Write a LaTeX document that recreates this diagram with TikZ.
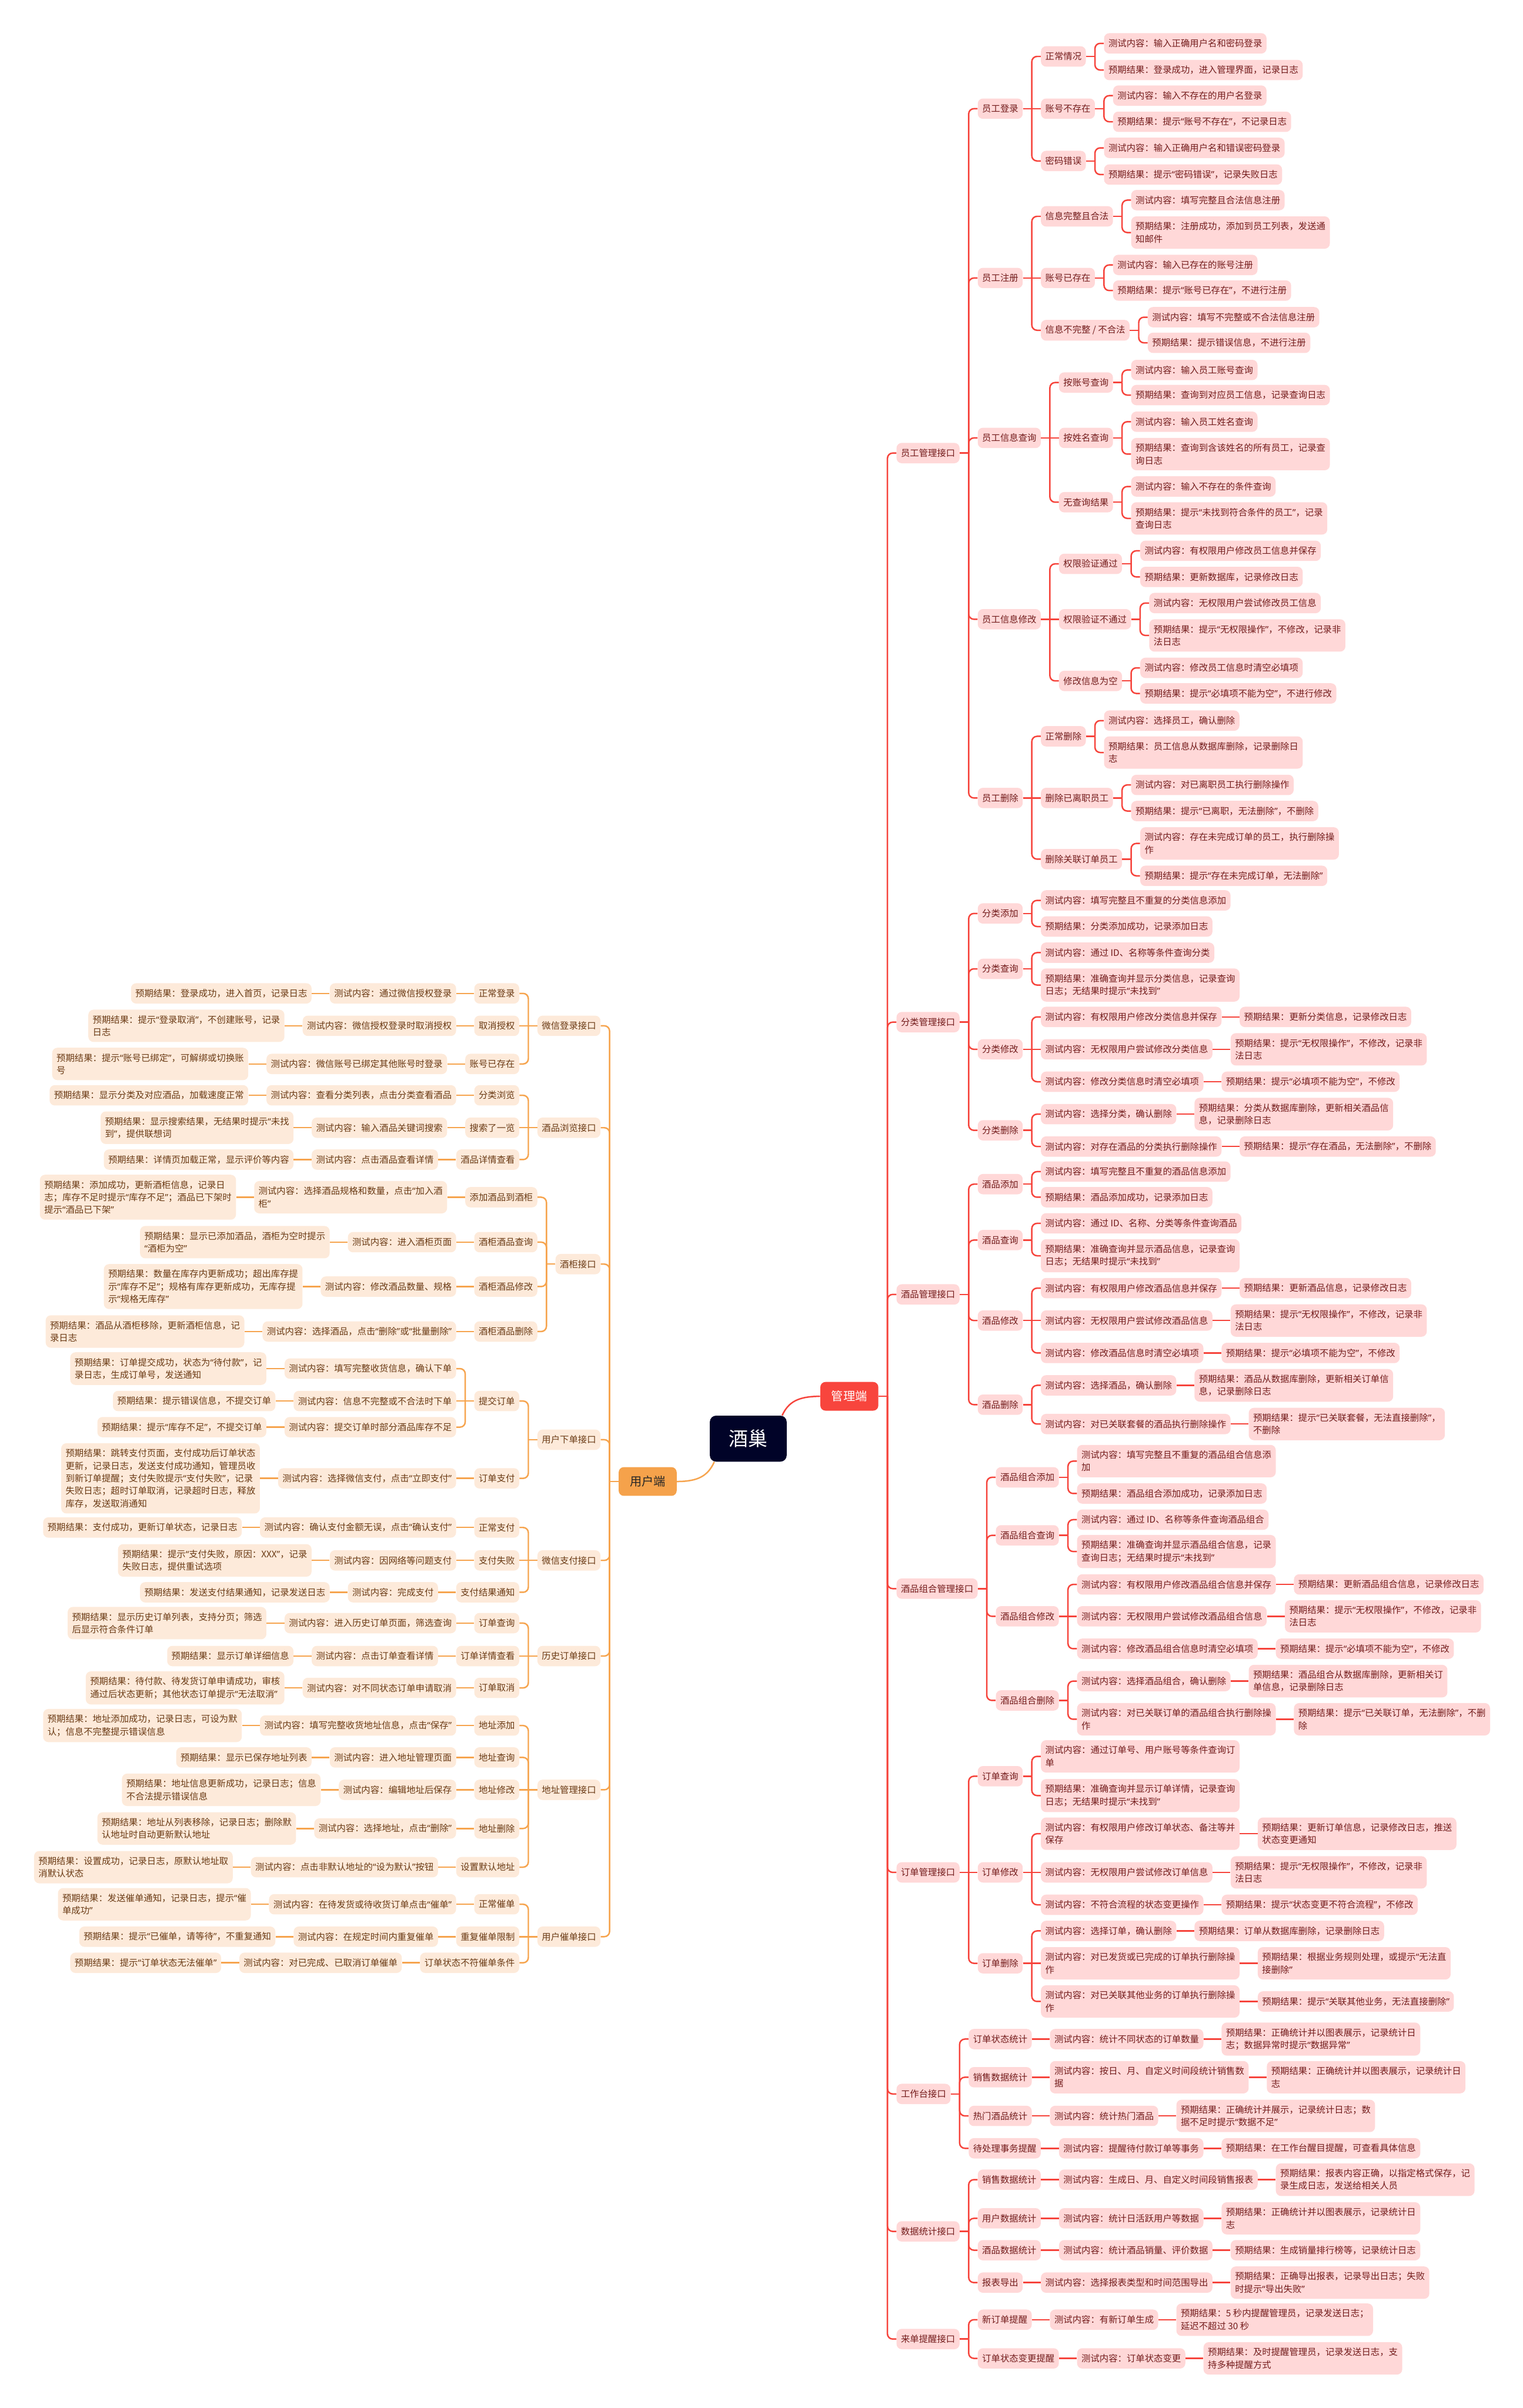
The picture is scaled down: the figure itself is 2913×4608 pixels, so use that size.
\documentclass[tikz,border=0pt]{standalone}
\usepackage{fontspec}
\usetikzlibrary{calc}
\newfontfamily\cjk{Noto Sans CJK SC}
\newfontfamily\qfont{Noto Sans}
\newcommand\qq[1]{{\qfont “}#1{\qfont ”}}
\definecolor{rfill}{HTML}{FFD8D8}
\definecolor{rtext}{HTML}{731C1C}
\definecolor{lfill}{HTML}{FDEADA}
\definecolor{ltext}{HTML}{6A3A14}
\definecolor{rline}{HTML}{F6443C}
\definecolor{lline}{HTML}{F6A44E}
\definecolor{rootc}{HTML}{010328}
\definecolor{mgrc}{HTML}{F8453D}
\definecolor{usrc}{HTML}{F5A24B}
\tikzset{
  base/.style={rounded corners=5pt, inner xsep=4.2pt, inner ysep=5.5pt, minimum height=19.5pt, align=left,
    font=\cjk\fontsize{8.65pt}{12pt}\selectfont},
  rb/.style={base, fill=rfill, text=rtext, anchor=west},
  lb/.style={base, fill=lfill, text=ltext, anchor=east},
  rl/.style={draw=rline, line width=1.4pt},
  ll/.style={draw=lline, line width=1.4pt},
  rootbox/.style={fill=rootc, text=white, rounded corners=6pt, minimum width=73.5pt, minimum height=44pt,
    font=\cjk\fontsize{18.5pt}{20pt}\selectfont},
  mgrbox/.style={fill=mgrc, text=white, rounded corners=5pt, minimum width=55.5pt, minimum height=27.5pt,
    font=\cjk\fontsize{11.4pt}{13pt}\selectfont},
  usrbox/.style={fill=usrc, text=black!85, rounded corners=5pt, minimum width=55.5pt, minimum height=27.5pt,
    font=\cjk\fontsize{11.4pt}{13pt}\selectfont},
}
\newcommand\mR[4]{%
  \path (0,#3) coordinate (tmpy);
  \node[rb, xshift=17pt] (#2) at (#1.east |- tmpy) {#4};
  \draw[rl] (#1.east) -- ([xshift=8.5pt]#1.east);
  \draw[rl, rounded corners=5pt] ([xshift=8.5pt]#1.east) |- (#2.west);
}
\newcommand\mRC[3]{%
  \node[rb, xshift=17pt] (#2) at (#1.east) {#3};
  \draw[rl] (#1.east) -- (#2.west);
}
\newcommand\mL[4]{%
  \path (0,#3) coordinate (tmpy);
  \node[lb, xshift=-17pt] (#2) at (#1.west |- tmpy) {#4};
  \draw[ll] (#1.west) -- ([xshift=-8.5pt]#1.west);
  \draw[ll, rounded corners=5pt] ([xshift=-8.5pt]#1.west) |- (#2.east);
}
\newcommand\mLC[3]{%
  \node[lb, xshift=-17pt] (#2) at (#1.west) {#3};
  \draw[ll] (#1.west) -- (#2.east);
}
\begin{document}
\begin{tikzpicture}[x=0.5pt,y=-0.5pt]
\useasboundingbox (0,0) rectangle (2913,4608);

% centre
\node[rootbox] (root) at (1431.5,2753) {酒巢};
\node[mgrbox, anchor=west] (mgr) at (1569,2672) {管理端};
\node[usrbox, anchor=east] (usr) at (1295,2835) {用户端};
\draw[rl] ($(root.north east)+(-9,0)$) .. controls ($(root.north east)+(3,-26)$) and ($(mgr.west)+(-42,0)$) .. (mgr.west);
\draw[ll] ($(root.south west)+(9,0)$) .. controls ($(root.south west)+(-3,26)$) and ($(usr.east)+(42,0)$) .. (usr.east);

% ================= 管理端 =================
\mR{mgr}{r1}{867}{员工管理接口}
\mR{r1}{r1a}{208}{员工登录}
\mR{r1a}{r1a1}{108}{正常情况}
\mR{r1a1}{r1a1t}{83}{测试内容：输入正确用户名和密码登录}
\mR{r1a1}{r1a1r}{134}{预期结果：登录成功，进入管理界面，记录日志}
\mRC{r1a}{r1a2}{账号不存在}
\mR{r1a2}{r1a2t}{183}{测试内容：输入不存在的用户名登录}
\mR{r1a2}{r1a2r}{233}{预期结果：提示\qq{账号不存在}，不记录日志}
\mR{r1a}{r1a3}{308}{密码错误}
\mR{r1a3}{r1a3t}{283}{测试内容：输入正确用户名和错误密码登录}
\mR{r1a3}{r1a3r}{334}{预期结果：提示\qq{密码错误}，记录失败日志}

\mR{r1}{r1b}{532}{员工注册}
\mR{r1b}{r1b1}{414}{信息完整且合法}
\mR{r1b1}{r1b1t}{383}{测试内容：填写完整且合法信息注册}
\mR{r1b1}{r1b1r}{445}{预期结果：注册成功，添加到员工列表，发送通\\知邮件}
\mRC{r1b}{r1b2}{账号已存在}
\mR{r1b2}{r1b2t}{507}{测试内容：输入已存在的账号注册}
\mR{r1b2}{r1b2r}{556}{预期结果：提示\qq{账号已存在}，不进行注册}
\mR{r1b}{r1b3}{632}{信息不完整 / 不合法}
\mR{r1b3}{r1b3t}{607}{测试内容：填写不完整或不合法信息注册}
\mR{r1b3}{r1b3r}{656}{预期结果：提示错误信息，不进行注册}

\mR{r1}{r1c}{838}{员工信息查询}
\mR{r1c}{r1c1}{732}{按账号查询}
\mR{r1c1}{r1c1t}{708}{测试内容：输入员工账号查询}
\mR{r1c1}{r1c1r}{756}{预期结果：查询到对应员工信息，记录查询日志}
\mRC{r1c}{r1c2}{按姓名查询}
\mR{r1c2}{r1c2t}{807}{测试内容：输入员工姓名查询}
\mR{r1c2}{r1c2r}{869}{预期结果：查询到含该姓名的所有员工，记录查\\询日志}
\mR{r1c}{r1c3}{961}{无查询结果}
\mR{r1c3}{r1c3t}{931}{测试内容：输入不存在的条件查询}
\mR{r1c3}{r1c3r}{992}{预期结果：提示\qq{未找到符合条件的员工}，记录\\查询日志}

\mR{r1}{r1d}{1185}{员工信息修改}
\mR{r1d}{r1d1}{1079}{权限验证通过}
\mR{r1d1}{r1d1t}{1054}{测试内容：有权限用户修改员工信息并保存}
\mR{r1d1}{r1d1r}{1104}{预期结果：更新数据库，记录修改日志}
\mRC{r1d}{r1d2}{权限验证不通过}
\mR{r1d2}{r1d2t}{1154}{测试内容：无权限用户尝试修改员工信息}
\mR{r1d2}{r1d2r}{1216}{预期结果：提示\qq{无权限操作}，不修改，记录非\\法日志}
\mR{r1d}{r1d3}{1303}{修改信息为空}
\mR{r1d3}{r1d3t}{1278}{测试内容：修改员工信息时清空必填项}
\mR{r1d3}{r1d3r}{1327}{预期结果：提示\qq{必填项不能为空}，不进行修改}

\mR{r1}{r1e}{1527}{员工删除}
\mR{r1e}{r1e1}{1409}{正常删除}
\mR{r1e1}{r1e1t}{1379}{测试内容：选择员工，确认删除}
\mR{r1e1}{r1e1r}{1440}{预期结果：员工信息从数据库删除，记录删除日\\志}
\mRC{r1e}{r1e2}{删除已离职员工}
\mR{r1e2}{r1e2t}{1502}{测试内容：对已离职员工执行删除操作}
\mR{r1e2}{r1e2r}{1552}{预期结果：提示\qq{已离职，无法删除}，不删除}
\mR{r1e}{r1e3}{1644}{删除关联订单员工}
\mR{r1e3}{r1e3t}{1614}{测试内容：存在未完成订单的员工，执行删除操\\作}
\mR{r1e3}{r1e3r}{1676}{预期结果：提示\qq{存在未完成订单，无法删除}}

\mR{mgr}{r2}{1956}{分类管理接口}
\mR{r2}{r2a}{1748}{分类添加}
\mR{r2a}{r2at}{1723}{测试内容：填写完整且不重复的分类信息添加}
\mR{r2a}{r2ar}{1773}{预期结果：分类添加成功，记录添加日志}
\mR{r2}{r2b}{1854}{分类查询}
\mR{r2b}{r2bt}{1823}{测试内容：通过 ID、名称等条件查询分类}
\mR{r2b}{r2br}{1885}{预期结果：准确查询并显示分类信息，记录查询\\日志；无结果时提示\qq{未找到}}
\mR{r2}{r2c}{2008}{分类修改}
\mR{r2c}{r2c1}{1946}{测试内容：有权限用户修改分类信息并保存}
\mRC{r2c1}{r2c1r}{预期结果：更新分类信息，记录修改日志}
\mRC{r2c}{r2c2}{测试内容：无权限用户尝试修改分类信息}
\mRC{r2c2}{r2c2r}{预期结果：提示\qq{无权限操作}，不修改，记录非\\法日志}
\mR{r2c}{r2c3}{2070}{测试内容：修改分类信息时清空必填项}
\mRC{r2c3}{r2c3r}{预期结果：提示\qq{必填项不能为空}，不修改}
\mR{r2}{r2d}{2163}{分类删除}
\mR{r2d}{r2d1}{2132}{测试内容：选择分类，确认删除}
\mRC{r2d1}{r2d1r}{预期结果：分类从数据库删除，更新相关酒品信\\息，记录删除日志}
\mR{r2d}{r2d2}{2194}{测试内容：对存在酒品的分类执行删除操作}
\mRC{r2d2}{r2d2r}{预期结果：提示\qq{存在酒品，无法删除}，不删除}

\mR{mgr}{r3}{2477}{酒品管理接口}
\mR{r3}{r3a}{2266}{酒品添加}
\mR{r3a}{r3at}{2242}{测试内容：填写完整且不重复的酒品信息添加}
\mR{r3a}{r3ar}{2291}{预期结果：酒品添加成功，记录添加日志}
\mR{r3}{r3b}{2373}{酒品查询}
\mR{r3b}{r3bt}{2341}{测试内容：通过 ID、名称、分类等条件查询酒品}
\mR{r3b}{r3br}{2403}{预期结果：准确查询并显示酒品信息，记录查询\\日志；无结果时提示\qq{未找到}}
\mR{r3}{r3c}{2527}{酒品修改}
\mR{r3c}{r3c1}{2465}{测试内容：有权限用户修改酒品信息并保存}
\mRC{r3c1}{r3c1r}{预期结果：更新酒品信息，记录修改日志}
\mRC{r3c}{r3c2}{测试内容：无权限用户尝试修改酒品信息}
\mRC{r3c2}{r3c2r}{预期结果：提示\qq{无权限操作}，不修改，记录非\\法日志}
\mR{r3c}{r3c3}{2589}{测试内容：修改酒品信息时清空必填项}
\mRC{r3c3}{r3c3r}{预期结果：提示\qq{必填项不能为空}，不修改}
\mR{r3}{r3d}{2688}{酒品删除}
\mR{r3d}{r3d1}{2651}{测试内容：选择酒品，确认删除}
\mRC{r3d1}{r3d1r}{预期结果：酒品从数据库删除，更新相关订单信\\息，记录删除日志}
\mR{r3d}{r3d2}{2725}{测试内容：对已关联套餐的酒品执行删除操作}
\mRC{r3d2}{r3d2r}{预期结果：提示\qq{已关联套餐，无法直接删除}，\\不删除}

\mR{mgr}{r4}{3040}{酒品组合管理接口}
\mR{r4}{r4a}{2827}{酒品组合添加}
\mR{r4a}{r4at}{2796}{测试内容：填写完整且不重复的酒品组合信息添\\加}
\mR{r4a}{r4ar}{2858}{预期结果：酒品组合添加成功，记录添加日志}
\mR{r4}{r4b}{2938}{酒品组合查询}
\mR{r4b}{r4bt}{2908}{测试内容：通过 ID、名称等条件查询酒品组合}
\mR{r4b}{r4br}{2969}{预期结果：准确查询并显示酒品组合信息，记录\\查询日志；无结果时提示\qq{未找到}}
\mR{r4}{r4c}{3093}{酒品组合修改}
\mR{r4c}{r4c1}{3032}{测试内容：有权限用户修改酒品组合信息并保存}
\mRC{r4c1}{r4c1r}{预期结果：更新酒品组合信息，记录修改日志}
\mRC{r4c}{r4c2}{测试内容：无权限用户尝试修改酒品组合信息}
\mRC{r4c2}{r4c2r}{预期结果：提示\qq{无权限操作}，不修改，记录非\\法日志}
\mR{r4c}{r4c3}{3155}{测试内容：修改酒品组合信息时清空必填项}
\mRC{r4c3}{r4c3r}{预期结果：提示\qq{必填项不能为空}，不修改}
\mR{r4}{r4d}{3254}{酒品组合删除}
\mR{r4d}{r4d1}{3217}{测试内容：选择酒品组合，确认删除}
\mRC{r4d1}{r4d1r}{预期结果：酒品组合从数据库删除，更新相关订\\单信息，记录删除日志}
\mR{r4d}{r4d2}{3290}{测试内容：对已关联订单的酒品组合执行删除操\\作}
\mRC{r4d2}{r4d2r}{预期结果：提示\qq{已关联订单，无法删除}，不删\\除}

\mR{mgr}{r5}{3583}{订单管理接口}
\mR{r5}{r5a}{3399}{订单查询}
\mR{r5a}{r5at}{3361}{测试内容：通过订单号、用户账号等条件查询订\\单}
\mR{r5a}{r5ar}{3436}{预期结果：准确查询并显示订单详情，记录查询\\日志；无结果时提示\qq{未找到}}
\mRC{r5}{r5b}{订单修改}
\mR{r5b}{r5b1}{3509}{测试内容：有权限用户修改订单状态、备注等并\\保存}
\mRC{r5b1}{r5b1r}{预期结果：更新订单信息，记录修改日志，推送\\状态变更通知}
\mRC{r5b}{r5b2}{测试内容：无权限用户尝试修改订单信息}
\mRC{r5b2}{r5b2r}{预期结果：提示\qq{无权限操作}，不修改，记录非\\法日志}
\mR{r5b}{r5b3}{3645}{测试内容：不符合流程的状态变更操作}
\mRC{r5b3}{r5b3r}{预期结果：提示\qq{状态变更不符合流程}，不修改}
\mR{r5}{r5c}{3757}{订单删除}
\mR{r5c}{r5c1}{3695}{测试内容：选择订单，确认删除}
\mRC{r5c1}{r5c1r}{预期结果：订单从数据库删除，记录删除日志}
\mRC{r5c}{r5c2}{测试内容：对已发货或已完成的订单执行删除操\\作}
\mRC{r5c2}{r5c2r}{预期结果：根据业务规则处理，或提示\qq{无法直\\接删除}}
\mR{r5c}{r5c3}{3830}{测试内容：对已关联其他业务的订单执行删除操\\作}
\mRC{r5c3}{r5c3r}{预期结果：提示\qq{关联其他业务，无法直接删除}}

\mR{mgr}{r6}{4007}{工作台接口}
\mR{r6}{r6a}{3902}{订单状态统计}
\mRC{r6a}{r6at}{测试内容：统计不同状态的订单数量}
\mRC{r6at}{r6ar}{预期结果：正确统计并以图表展示，记录统计日\\志；数据异常时提示\qq{数据异常}}
\mR{r6}{r6b}{3975}{销售数据统计}
\mRC{r6b}{r6bt}{测试内容：按日、月、自定义时间段统计销售数\\据}
\mRC{r6bt}{r6br}{预期结果：正确统计并以图表展示，记录统计日\\志}
\mR{r6}{r6c}{4049}{热门酒品统计}
\mRC{r6c}{r6ct}{测试内容：统计热门酒品}
\mRC{r6ct}{r6cr}{预期结果：正确统计并展示，记录统计日志；数\\据不足时提示\qq{数据不足}}
\mR{r6}{r6d}{4111}{待处理事务提醒}
\mRC{r6d}{r6dt}{测试内容：提醒待付款订单等事务}
\mRC{r6dt}{r6dr}{预期结果：在工作台醒目提醒，可查看具体信息}

\mR{mgr}{r7}{4270}{数据统计接口}
\mR{r7}{r7a}{4171}{销售数据统计}
\mRC{r7a}{r7at}{测试内容：生成日、月、自定义时间段销售报表}
\mRC{r7at}{r7ar}{预期结果：报表内容正确，以指定格式保存，记\\录生成日志，发送给相关人员}
\mR{r7}{r7b}{4245}{用户数据统计}
\mRC{r7b}{r7bt}{测试内容：统计日活跃用户等数据}
\mRC{r7bt}{r7br}{预期结果：正确统计并以图表展示，记录统计日\\志}
\mR{r7}{r7c}{4306}{酒品数据统计}
\mRC{r7c}{r7ct}{测试内容：统计酒品销量、评价数据}
\mRC{r7ct}{r7cr}{预期结果：生成销量排行榜等，记录统计日志}
\mR{r7}{r7d}{4368}{报表导出}
\mRC{r7d}{r7dt}{测试内容：选择报表类型和时间范围导出}
\mRC{r7dt}{r7dr}{预期结果：正确导出报表，记录导出日志；失败\\时提示\qq{导出失败}}

\mR{mgr}{r8}{4476}{来单提醒接口}
\mR{r8}{r8a}{4439}{新订单提醒}
\mRC{r8a}{r8at}{测试内容：有新订单生成}
\mRC{r8at}{r8ar}{预期结果：5 秒内提醒管理员，记录发送日志；\\延迟不超过 30 秒}
\mR{r8}{r8b}{4513}{订单状态变更提醒}
\mRC{r8b}{r8bt}{测试内容：订单状态变更}
\mRC{r8bt}{r8br}{预期结果：及时提醒管理员，记录发送日志，支\\持多种提醒方式}

% ================= 用户端 =================
\mL{usr}{l1}{1963}{微信登录接口}
\mL{l1}{l1a}{1901}{正常登录}
\mLC{l1a}{l1at}{测试内容：通过微信授权登录}
\mLC{l1at}{l1ar}{预期结果：登录成功，进入首页，记录日志}
\mLC{l1}{l1b}{取消授权}
\mLC{l1b}{l1bt}{测试内容：微信授权登录时取消授权}
\mLC{l1bt}{l1br}{预期结果：提示\qq{登录取消}，不创建账号，记录\\日志}
\mL{l1}{l1c}{2036}{账号已存在}
\mLC{l1c}{l1ct}{测试内容：微信账号已绑定其他账号时登录}
\mLC{l1ct}{l1cr}{预期结果：提示\qq{账号已绑定}，可解绑或切换账\\号}

\mL{usr}{l2}{2158}{酒品浏览接口}
\mL{l2}{l2a}{2096}{分类浏览}
\mLC{l2a}{l2at}{测试内容：查看分类列表，点击分类查看酒品}
\mLC{l2at}{l2ar}{预期结果：显示分类及对应酒品，加载速度正常}
\mLC{l2}{l2b}{搜索了一览}
\mLC{l2b}{l2bt}{测试内容：输入酒品关键词搜索}
\mLC{l2bt}{l2br}{预期结果：显示搜索结果，无结果时提示\qq{未找\\到}，提供联想词}
\mL{l2}{l2c}{2219}{酒品详情查看}
\mLC{l2c}{l2ct}{测试内容：点击酒品查看详情}
\mLC{l2ct}{l2cr}{预期结果：详情页加载正常，显示评价等内容}

\mL{usr}{l3}{2419}{酒柜接口}
\mL{l3}{l3a}{2291}{添加酒品到酒柜}
\mLC{l3a}{l3at}{测试内容：选择酒品规格和数量，点击\qq{加入酒\\柜}}
\mLC{l3at}{l3ar}{预期结果：添加成功，更新酒柜信息，记录日\\志；库存不足时提示\qq{库存不足}；酒品已下架时\\提示\qq{酒品已下架}}
\mL{l3}{l3b}{2377}{酒柜酒品查询}
\mLC{l3b}{l3bt}{测试内容：进入酒柜页面}
\mLC{l3bt}{l3br}{预期结果：显示已添加酒品，酒柜为空时提示\\\qq{酒柜为空}}
\mL{l3}{l3c}{2462}{酒柜酒品修改}
\mLC{l3c}{l3ct}{测试内容：修改酒品数量、规格}
\mLC{l3ct}{l3cr}{预期结果：数量在库存内更新成功；超出库存提\\示\qq{库存不足}；规格有库存更新成功，无库存提\\示\qq{规格无库存}}
\mL{l3}{l3d}{2548}{酒柜酒品删除}
\mLC{l3d}{l3dt}{测试内容：选择酒品，点击\qq{删除}或\qq{批量删除}}
\mLC{l3dt}{l3dr}{预期结果：酒品从酒柜移除，更新酒柜信息，记\\录日志}

\mL{usr}{l4}{2755}{用户下单接口}
\mL{l4}{l4a}{2681}{提交订单}
\mL{l4a}{l4a1}{2619}{测试内容：填写完整收货信息，确认下单}
\mLC{l4a1}{l4a1r}{预期结果：订单提交成功，状态为\qq{待付款}，记\\录日志，生成订单号，发送通知}
\mLC{l4a}{l4a2}{测试内容：信息不完整或不合法时下单}
\mLC{l4a2}{l4a2r}{预期结果：提示错误信息，不提交订单}
\mL{l4a}{l4a3}{2731}{测试内容：提交订单时部分酒品库存不足}
\mLC{l4a3}{l4a3r}{预期结果：提示\qq{库存不足}，不提交订单}
\mL{l4}{l4b}{2829}{订单支付}
\mLC{l4b}{l4bt}{测试内容：选择微信支付，点击\qq{立即支付}}
\mLC{l4bt}{l4br}{预期结果：跳转支付页面，支付成功后订单状态\\更新，记录日志，发送支付成功通知，管理员收\\到新订单提醒；支付失败提示\qq{支付失败}，记录\\失败日志；超时订单取消，记录超时日志，释放\\库存，发送取消通知}

\mL{usr}{l5}{2986}{微信支付接口}
\mL{l5}{l5a}{2923}{正常支付}
\mLC{l5a}{l5at}{测试内容：确认支付金额无误，点击\qq{确认支付}}
\mLC{l5at}{l5ar}{预期结果：支付成功，更新订单状态，记录日志}
\mLC{l5}{l5b}{支付失败}
\mLC{l5b}{l5bt}{测试内容：因网络等问题支付}
\mLC{l5bt}{l5br}{预期结果：提示\qq{支付失败，原因：XXX}，记录\\失败日志，提供重试选项}
\mL{l5}{l5c}{3047}{支付结果通知}
\mLC{l5c}{l5ct}{测试内容：完成支付}
\mLC{l5ct}{l5cr}{预期结果：发送支付结果通知，记录发送日志}

\mL{usr}{l6}{3169}{历史订单接口}
\mL{l6}{l6a}{3106}{订单查询}
\mLC{l6a}{l6at}{测试内容：进入历史订单页面，筛选查询}
\mLC{l6at}{l6ar}{预期结果：显示历史订单列表，支持分页；筛选\\后显示符合条件订单}
\mLC{l6}{l6b}{订单详情查看}
\mLC{l6b}{l6bt}{测试内容：点击订单查看详情}
\mLC{l6bt}{l6br}{预期结果：显示订单详细信息}
\mL{l6}{l6c}{3230}{订单取消}
\mLC{l6c}{l6ct}{测试内容：对不同状态订单申请取消}
\mLC{l6ct}{l6cr}{预期结果：待付款、待发货订单申请成功，审核\\通过后状态更新；其他状态订单提示\qq{无法取消}}

\mL{usr}{l7}{3425}{地址管理接口}
\mL{l7}{l7a}{3302}{地址添加}
\mLC{l7a}{l7at}{测试内容：填写完整收货地址信息，点击\qq{保存}}
\mLC{l7at}{l7ar}{预期结果：地址添加成功，记录日志，可设为默\\认；信息不完整提示错误信息}
\mL{l7}{l7b}{3363}{地址查询}
\mLC{l7b}{l7bt}{测试内容：进入地址管理页面}
\mLC{l7bt}{l7br}{预期结果：显示已保存地址列表}
\mLC{l7}{l7c}{地址修改}
\mLC{l7c}{l7ct}{测试内容：编辑地址后保存}
\mLC{l7ct}{l7cr}{预期结果：地址信息更新成功，记录日志；信息\\不合法提示错误信息}
\mL{l7}{l7d}{3499}{地址删除}
\mLC{l7d}{l7dt}{测试内容：选择地址，点击\qq{删除}}
\mLC{l7dt}{l7dr}{预期结果：地址从列表移除，记录日志；删除默\\认地址时自动更新默认地址}
\mL{l7}{l7e}{3573}{设置默认地址}
\mLC{l7e}{l7et}{测试内容：点击非默认地址的\qq{设为默认}按钮}
\mLC{l7et}{l7er}{预期结果：设置成功，记录日志，原默认地址取\\消默认状态}

\mL{usr}{l8}{3706}{用户催单接口}
\mL{l8}{l8a}{3644}{正常催单}
\mLC{l8a}{l8at}{测试内容：在待发货或待收货订单点击\qq{催单}}
\mLC{l8at}{l8ar}{预期结果：发送催单通知，记录日志，提示\qq{催\\单成功}}
\mLC{l8}{l8b}{重复催单限制}
\mLC{l8b}{l8bt}{测试内容：在规定时间内重复催单}
\mLC{l8bt}{l8br}{预期结果：提示\qq{已催单，请等待}，不重复通知}
\mL{l8}{l8c}{3756}{订单状态不符催单条件}
\mLC{l8c}{l8ct}{测试内容：对已完成、已取消订单催单}
\mLC{l8ct}{l8cr}{预期结果：提示\qq{订单状态无法催单}}
\end{tikzpicture}
\end{document}
